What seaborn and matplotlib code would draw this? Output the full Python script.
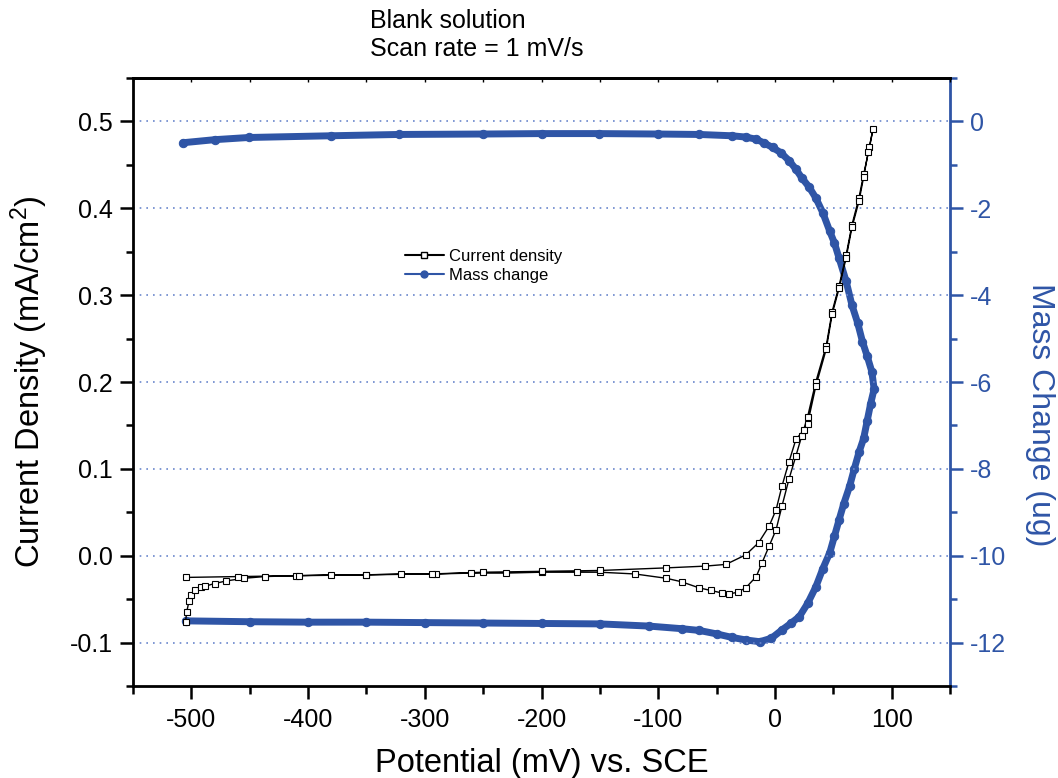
import matplotlib
matplotlib.use("Agg")
import matplotlib.pyplot as plt
import seaborn as sns
import pandas as pd
from matplotlib.ticker import MultipleLocator, FormatStrFormatter
from matplotlib.lines import Line2D

# current density loop (forward then reverse), mV vs SCE / mA cm-2
cur_pot = [-505, -504, -502, -500, -497, -492, -488, -480, -470, -455, -437, -410, -380,
           -350, -320, -290, -260, -230, -200, -170, -150, -120, -93, -80, -65, -55, -45,
           -39, -32, -25, -16, -11, -5, 1, 6, 12, 18, 23, 28, 35, 44, 49, 55, 61, 66,
           72, 76, 81, 84,
           80, 76, 72, 66, 61, 55, 49, 44, 35, 28, 25, 18, 12, 6, 1, -5, -14, -25, -42,
           -60, -93, -150, -200, -250, -294, -350, -408, -460, -505]
cur_val = [-0.076, -0.065, -0.052, -0.045, -0.039, -0.036, -0.035, -0.032, -0.029, -0.026,
           -0.024, -0.023, -0.022, -0.022, -0.021, -0.021, -0.020, -0.020, -0.019, -0.019,
           -0.019, -0.021, -0.026, -0.030, -0.037, -0.040, -0.043, -0.044, -0.042, -0.037,
           -0.024, -0.008, 0.011, 0.030, 0.057, 0.088, 0.115, 0.138, 0.160, 0.200, 0.242,
           0.281, 0.311, 0.346, 0.381, 0.412, 0.439, 0.470, 0.491,
           0.465, 0.436, 0.408, 0.378, 0.343, 0.308, 0.278, 0.238, 0.195, 0.152, 0.145,
           0.134, 0.108, 0.080, 0.053, 0.034, 0.015, 0.001, -0.010,
           -0.012, -0.014, -0.017, -0.018, -0.019, -0.021, -0.022, -0.023, -0.024, -0.025]

# mass change loop (forward then reverse), ug
mass_pot = [-505, -450, -400, -350, -300, -250, -200, -150, -108, -80, -65, -50, -37, -25,
            -13, -3, 6, 14, 21, 28, 35, 41, 47, 51, 55, 59, 64, 68, 72, 76, 79, 82, 85,
            83, 79, 75, 71, 66, 61, 55, 51, 47, 41, 35, 29, 23, 18, 12, 5, -2, -9, -16,
            -25, -37, -65, -100, -151, -200, -250, -322, -380, -451, -480, -507]
mass_val = [-11.50, -11.52, -11.53, -11.53, -11.54, -11.55, -11.56, -11.57, -11.62, -11.68,
            -11.72, -11.80, -11.88, -11.94, -11.98, -11.90, -11.71, -11.55, -11.40, -11.10,
            -10.72, -10.30, -9.93, -9.55, -9.17, -8.80, -8.40, -8.00, -7.62, -7.30, -6.90,
            -6.50, -6.16,
            -5.76, -5.40, -5.07, -4.65, -4.23, -3.68, -3.15, -2.80, -2.53, -2.10, -1.76,
            -1.50, -1.30, -1.10, -0.90, -0.72, -0.60, -0.50, -0.41, -0.36, -0.33, -0.30,
            -0.29, -0.28, -0.28, -0.29, -0.30, -0.33, -0.37, -0.42, -0.49]

title_lines = ["Blank solution", "Scan rate = 1 mV/s"]
legend_labels = ["Current density", "Mass change"]

blue = "#2f55a6"

sns.set_style("ticks")
plt.rcParams["font.family"] = ["Liberation Sans", "DejaVu Sans"]
plt.rcParams["mathtext.default"] = "regular"
plt.rcParams["axes.unicode_minus"] = False
for key in ["text.color", "axes.labelcolor", "xtick.color", "ytick.color"]:
    plt.rcParams[key] = "black"

fig = plt.figure(figsize=(10.58, 7.78), dpi=100)
ax = fig.add_axes([133 / 1058, 1 - 686 / 778, 817 / 1058, 608 / 778])
ax2 = ax.twinx()

cur_df = pd.DataFrame({"pot": cur_pot, "val": cur_val})
mass_df = pd.DataFrame({"pot": mass_pot, "val": mass_val})

sns.lineplot(data=mass_df, x="pot", y="val", sort=False, estimator=None, ax=ax2,
             color=blue, linewidth=5, marker="o", markersize=6,
             markeredgecolor=blue, markerfacecolor=blue)
sns.lineplot(data=cur_df, x="pot", y="val", sort=False, estimator=None, ax=ax,
             color="black", linewidth=1, marker="s", markersize=5,
             markerfacecolor="white", markeredgecolor="black", markeredgewidth=0.8)
ax.set_zorder(ax2.get_zorder() + 1)
ax.patch.set_visible(False)

ax.set_xlim(-550, 150)
ax.set_ylim(-0.15, 0.55)
ax2.set_ylim(-13, 1)

ax.xaxis.set_major_locator(MultipleLocator(100))
ax.xaxis.set_minor_locator(MultipleLocator(50))
ax.yaxis.set_major_locator(MultipleLocator(0.1))
ax.yaxis.set_minor_locator(MultipleLocator(0.05))
ax2.yaxis.set_major_locator(MultipleLocator(2))
ax2.yaxis.set_minor_locator(MultipleLocator(1))
ax.yaxis.set_major_formatter(FormatStrFormatter("%.1f"))

for yv in [-0.1, 0.0, 0.1, 0.2, 0.3, 0.4, 0.5]:
    ax.axhline(yv, color="#6a86cc", linestyle=(0, (1, 3)), linewidth=1.2, zorder=0)

ax.tick_params(axis="x", which="major", direction="out", length=9.5, width=1.8,
               labelsize=18, pad=6, colors="black")
ax.tick_params(axis="x", which="minor", direction="out", length=5.5, width=1.8)
ax.tick_params(axis="y", which="major", direction="out", length=9.5, width=1.8,
               labelsize=18, pad=5, colors="black")
ax.tick_params(axis="y", which="minor", direction="out", length=5, width=1.8)
ax2.tick_params(axis="y", which="major", direction="out", length=9.5, width=1.8,
                labelsize=18, colors=blue, pad=5)
ax2.tick_params(axis="y", which="minor", direction="out", length=5, width=1.8, colors=blue)

# small inward ticks along the top edge
top = ax.secondary_xaxis("top")
top.xaxis.set_major_locator(MultipleLocator(50))
top.tick_params(direction="in", length=3, width=1, labeltop=False, colors="black")
top.spines["top"].set_linewidth(2)
top.spines["top"].set_color("black")

for sp in ["left", "bottom", "top"]:
    ax.spines[sp].set_linewidth(2)
    ax.spines[sp].set_color("black")
ax2.spines["right"].set_color(blue)
ax2.spines["right"].set_linewidth(2)
ax2.spines["left"].set_visible(False)
ax2.spines["top"].set_visible(False)
ax2.spines["bottom"].set_visible(False)
ax.spines["right"].set_visible(False)

ax.set_xlabel("Potential (mV) vs. SCE", fontsize=23.5, labelpad=12, color="black")
ax.set_ylabel("Current Density (mA/cm$^2$)", fontsize=23.5, labelpad=14, color="black")
ax2.set_ylabel("Mass Change (ug)", fontsize=23, color=blue, rotation=270,
               va="center", ha="center")
ax2.yaxis.set_label_coords((1040 - 133) / 817, 0.446)

fig.text(370 / 1058, 1 - 9 / 778, "\n".join(title_lines), ha="left", va="top",
         fontsize=18, linespacing=1.2, color="black")

handles = [
    Line2D([], [], color="black", linewidth=1.5, marker="s", markersize=4,
           markerfacecolor="white", markeredgecolor="black"),
    Line2D([], [], color=blue, linewidth=1.5, marker="o", markersize=5,
           markerfacecolor=blue, markeredgecolor=blue),
]
ax.legend(handles, legend_labels, loc="upper left", bbox_to_anchor=(0.323, 0.732),
          frameon=False, fontsize=12, handlelength=2.3, handletextpad=0.3,
          labelspacing=0.2, borderpad=0, labelcolor="black")

fig.savefig("out.png", dpi=100)
